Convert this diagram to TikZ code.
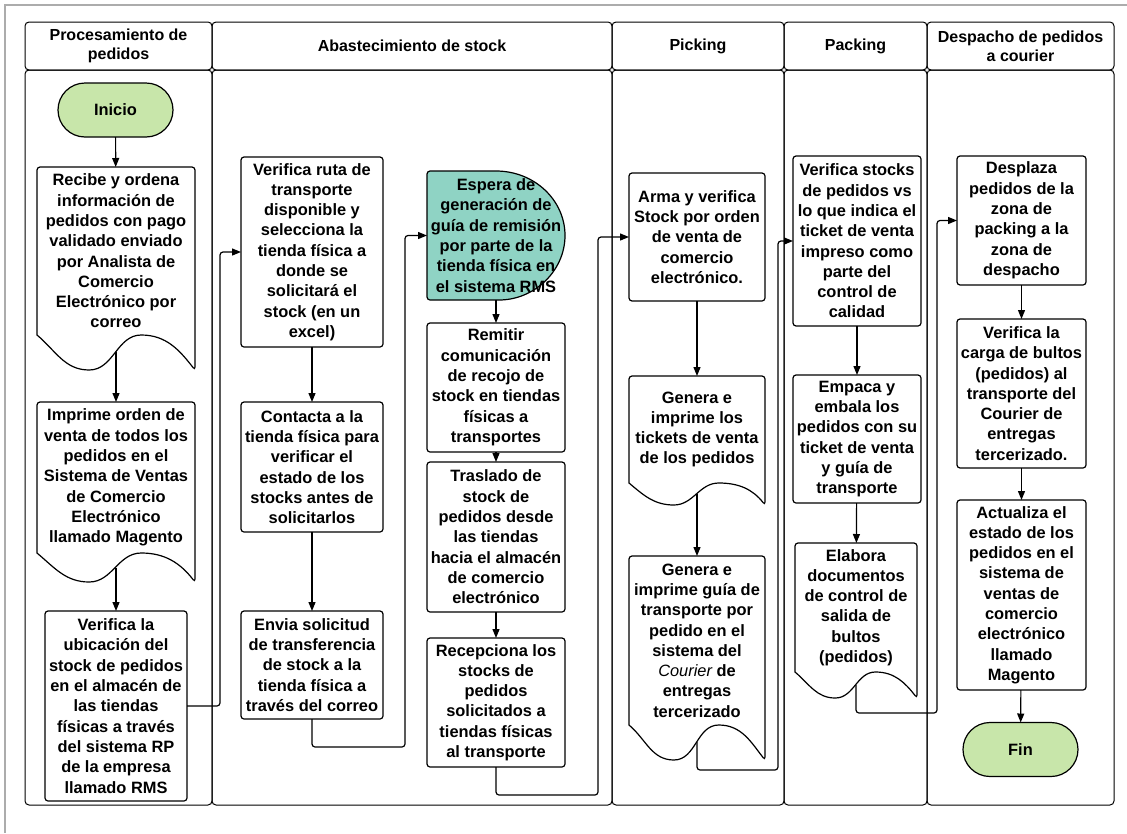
\documentclass[tikz,border=0pt]{standalone}
\usepackage{fontspec}
\setmainfont{Liberation Sans}
\usetikzlibrary{arrows.meta,calc,backgrounds}

\definecolor{startgreen}{RGB}{200,230,170}
\definecolor{waitteal}{RGB}{143,211,196}
\definecolor{framegray}{RGB}{172,172,172}

% wavy bottom of a document box, #2 = depth of the wave
\newcommand{\docoutline}[2]{%
  \draw[shapeline] (#1.south west) [rounded corners=3pt] -- (#1.north west)
    -- (#1.north east) -- ($(#1.south east)+(0,-#2)$) [sharp corners]
    to[out=128,in=0] ($(#1.south west)!0.66!(#1.south east)$)
    to[out=180,in=0] ($(#1.south west)!0.33!(#1.south east)+(0,-#2)$)
    to[out=180,in=-40] (#1.south west) -- cycle;%
}

\begin{document}
\begin{tikzpicture}[x=1pt, y=1pt,
  txt/.style={font=\bfseries\fontsize{16.4}{20.3}\selectfont, align=center,
    inner sep=0pt, outer sep=0pt},
  box/.style={txt, draw, line width=1.2pt, rounded corners=3pt},
  doc/.style={txt},
  term/.style={txt, draw, line width=1.2pt, fill=startgreen,
    rounded corners=27pt, minimum width=115, minimum height=54},
  shapeline/.style={line width=1.2pt},
  lanehead/.style={draw, line width=1pt, rounded corners=4pt, minimum height=48,
    font=\bfseries\fontsize{16}{19}\selectfont, align=center, inner sep=0pt, outer sep=0pt},
  lanebody/.style={draw, line width=1pt, rounded corners=4pt, minimum height=735,
    inner sep=0pt, outer sep=0pt},
  arr/.style={-{Triangle[length=9pt,width=7pt]}, line width=1.2pt, rounded corners=3pt}]

\useasboundingbox (0,0) rectangle (1127,-833);
\draw[framegray, line width=2.5pt] (5,-833) -- (5,-5) -- (1127,-5);

% lanes
\node[lanehead, minimum width=187] (h1) at (118.5,-46) {Procesamiento de\\pedidos};
\node[lanehead, minimum width=400] (h2) at (412,-46) {Abastecimiento de stock};
\node[lanehead, minimum width=172] (h3) at (698,-46) {Picking};
\node[lanehead, minimum width=143] (h4) at (855.5,-46) {Packing};
\node[lanehead, minimum width=187] (h5) at (1020.5,-46) {Despacho de pedidos\\a courier};

\node[lanebody, minimum width=187] (l1) at (118.5,-437.5) {};
\node[lanebody, minimum width=400] (l2) at (412,-437.5) {};
\node[lanebody, minimum width=172] (l3) at (698,-437.5) {};
\node[lanebody, minimum width=143] (l4) at (855.5,-437.5) {};
\node[lanebody, minimum width=187] (l5) at (1020.5,-437.5) {};

% procesamiento de pedidos
\node[term] (ini) at (115.5,-110) {Inicio};
\node[doc, minimum width=158, minimum height=168] (rec1) at (116,-251)
  {Recibe y ordena\\información de\\pedidos con pago\\validado enviado\\por Analista de\\Comercio\\Electrónico por\\correo};
\docoutline{rec1}{35}
\node[doc, minimum width=158, minimum height=151] (impr) at (116,-477.5)
  {Imprime orden de\\venta de todos los\\pedidos en el\\Sistema de Ventas\\de Comercio\\Electrónico\\llamado Magento};
\docoutline{impr}{29}
\node[box, minimum width=142, minimum height=190] (ubic) at (116,-706)
  {Verifica la\\ubicación del\\stock de pedidos\\en el almacén de\\las tiendas\\físicas a través\\del sistema RP\\de la empresa\\llamado RMS};

% abastecimiento de stock
\node[box, minimum width=142, minimum height=190] (ruta) at (312,-252)
  {Verifica ruta de\\transporte\\disponible y\\selecciona la\\tienda física a\\donde se\\solicitará el\\stock (en un\\excel)};
\node[box, minimum width=142, minimum height=130] (cont) at (312,-467)
  {Contacta a la\\tienda física para\\verificar el\\estado de los\\stocks antes de\\solicitarlos};
\node[box, minimum width=142, minimum height=108] (env) at (312,-665)
  {Envia solicitud\\de transferencia\\de stock a la\\tienda física a\\través del correo};
\node[doc, minimum width=138, minimum height=129] (esp) at (496,-235.5)
  {Espera de\\generación de\\guía de remisión\\por parte de la\\tienda física en\\el sistema RMS};
\begin{scope}[on background layer]
\filldraw[shapeline, fill=waitteal] (esp.north) [rounded corners=3pt] -- (esp.north west)
  -- (esp.south west) -- (esp.south) [sharp corners]
  arc[start angle=-90, end angle=90, x radius=69pt, y radius=64.5pt] -- cycle;
\end{scope}
\node[box, minimum width=138, minimum height=129] (remi) at (496,-387.5)
  {Remitir\\comunicación\\de recojo de\\stock en tiendas\\físicas a\\transportes};
\node[box, minimum width=138, minimum height=150] (tras) at (496,-537)
  {Traslado de\\stock de\\pedidos desde\\las tiendas\\hacia el almacén\\de comercio\\electrónico};
\node[box, minimum width=138, minimum height=129] (recep) at (496,-702.5)
  {Recepciona los\\stocks de\\pedidos\\solicitados a\\tiendas físicas\\al transporte};

% picking
\node[box, minimum width=136, minimum height=128] (arma) at (697,-237)
  {Arma y verifica\\Stock por orden\\de venta de\\comercio\\electrónico.};
\node[doc, minimum width=136, minimum height=107] (tick) at (697,-429.5)
  {Genera e\\imprime los\\tickets de venta\\de los pedidos};
\docoutline{tick}{22}
\node[doc, minimum width=136, minimum height=169] (guia) at (697,-640.5)
  {Genera e\\imprime guía de\\transporte por\\pedido en el\\sistema del\\{\mdseries\itshape Courier} de\\entregas\\tercerizado};
\docoutline{guia}{35}

% packing
\node[box, minimum width=128, minimum height=170] (vsto) at (857,-241)
  {Verifica stocks\\de pedidos vs\\lo que indica el\\ticket de venta\\impreso como\\parte del\\control de\\calidad};
\node[box, minimum width=128, minimum height=128] (emp) at (857,-439)
  {Empaca y\\embala los\\pedidos con su\\ticket de venta\\y guía de\\transporte};
\node[doc, minimum width=122, minimum height=129] (elab) at (856,-607.5)
  {Elabora\\documentos\\de control de\\salida de\\bultos\\(pedidos)};
\docoutline{elab}{26}

% despacho
\node[box, minimum width=129, minimum height=129] (desp) at (1021.5,-220.5)
  {Desplaza\\pedidos de la\\zona de\\packing a la\\zona de\\despacho};
\node[box, minimum width=129, minimum height=149] (carga) at (1021.5,-393.5)
  {Verifica la\\carga de bultos\\(pedidos) al\\transporte del\\Courier de\\entregas\\tercerizado.};
\node[box, minimum width=129, minimum height=190] (act) at (1021.5,-595)
  {Actualiza el\\estado de los\\pedidos en el\\sistema de\\ventas de\\comercio\\electrónico\\llamado\\Magento};
\node[term] (fin) at (1020.5,-749.5) {Fin};

% connectors
\draw[arr] (ini) -- (rec1);
\draw[arr] ($(rec1.south)+(0,-17)$) -- (impr);
\draw[arr] ($(impr.south)+(0,-15)$) -- (ubic);
\draw[arr] (ubic.east) -- ++(33,0) |- (ruta.west);
\draw[arr] (ruta) -- (cont);
\draw[arr] (cont) -- (env);
\draw[arr] (env.south) -- ++(0,-28) -| ([xshift=-22pt]esp.west) -- (esp.west);
\draw[arr] (esp) -- (remi);
\draw[arr] (remi) -- (tras);
\draw[arr] (tras) -- (recep);
\draw[arr] (recep.south) -- ++(0,-28) -| ([xshift=-31pt]arma.west) -- (arma.west);
\draw[arr] (arma) -- (tick);
\draw[arr] ($(tick.south)+(0,-11)$) -- (guia);
\draw[arr] ($(guia.south)+(0,-17)$) -- ++(0,-28) -| ([xshift=-15pt]vsto.west) -- (vsto.west);
\draw[arr] (vsto) -- (emp);
\draw[arr] (emp) -- (elab);
\draw[arr] ($(elab.south)+(0,-13)$) -- ++(0,-28) -| ([xshift=-20pt]desp.west) -- (desp.west);
\draw[arr] (desp) -- (carga);
\draw[arr] (carga) -- (act);
\draw[arr] (act) -- (fin);

\end{tikzpicture}
\end{document}
